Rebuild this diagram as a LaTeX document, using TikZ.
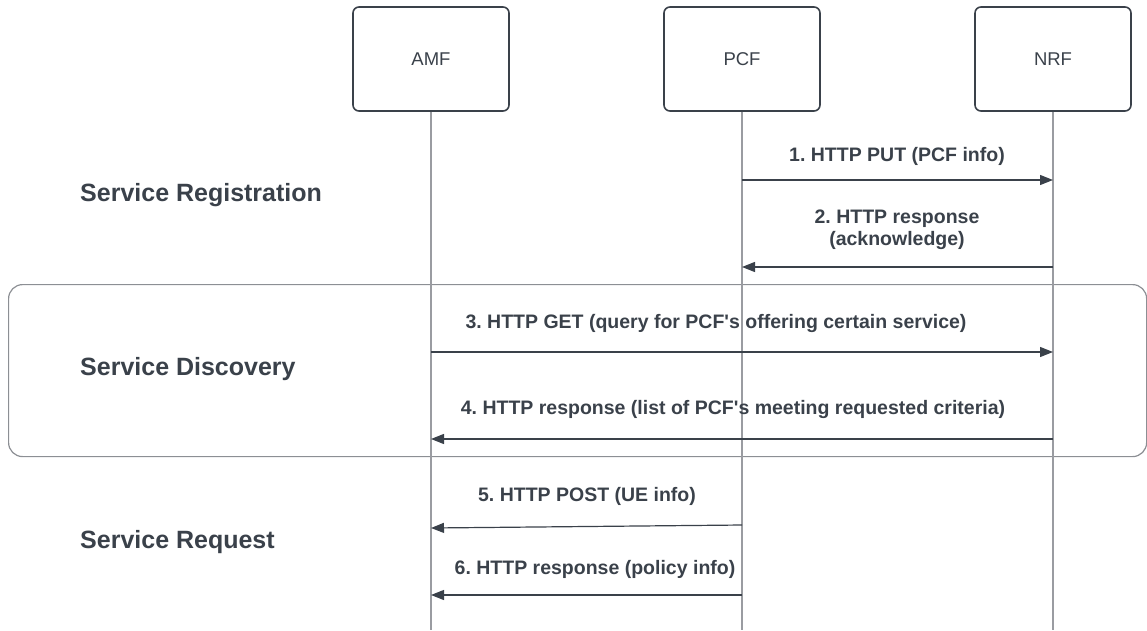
\documentclass[tikz,border=0pt]{standalone}
\usepackage{fontspec}
\setmainfont{Liberation Sans}[Ligatures=TeXOff]
\usetikzlibrary{arrows.meta}
\definecolor{ink}{HTML}{3A414A}
\definecolor{lifegray}{HTML}{9A9CA1}
\definecolor{framegray}{HTML}{8C8F94}
\frenchspacing
\tikzset{
  actor/.style={draw=ink, line width=1.6pt, rounded corners=6pt, minimum width=156pt, minimum height=104pt, text=ink, font=\fontsize{18.5}{22}\selectfont},
  lifeline/.style={draw=lifegray, line width=1.4pt},
  msg/.style={draw=ink, line width=1.2pt, -{Triangle[length=13pt,width=10pt]}},
  msglabel/.style={text=ink, font=\fontsize{19.5}{22}\selectfont\bfseries, align=center, inner sep=0pt},
  phase/.style={text=ink, font=\fontsize{25}{28}\selectfont\bfseries, anchor=west, inner sep=0pt},
  frame/.style={draw=framegray, line width=1.2pt, rounded corners=14pt}
}
\begin{document}
\begin{tikzpicture}[x=1pt,y=-1pt]
\useasboundingbox (0,0) rectangle (1147,630);
% frame for discovery
\node[frame, minimum width=1138pt, minimum height=172pt, anchor=north west] (disc) at (8,284) {};
% actors
\node[actor] (amf) at (431,59) {AMF};
\node[actor] (pcf) at (742,59) {PCF};
\node[actor] (nrf) at (1053,59) {NRF};
\coordinate (amfend) at (431,630);
\coordinate (pcfend) at (742,630);
\coordinate (nrfend) at (1053,630);
\draw[lifeline] (amf.south) -- (amfend);
\draw[lifeline] (pcf.south) -- (pcfend);
\draw[lifeline] (nrf.south) -- (nrfend);
% message anchor points
\coordinate (p1) at (742,180); \coordinate (n1) at (1053,180);
\coordinate (n2) at (1053,267); \coordinate (p2) at (742,267);
\coordinate (a3) at (431,352); \coordinate (n3) at (1053,352);
\coordinate (n4) at (1053,439); \coordinate (a4) at (431,439);
\coordinate (p5) at (742,525); \coordinate (a5) at (431,528);
\coordinate (p6) at (742,595); \coordinate (a6) at (431,595);
\draw[msg] (p1) -- (n1);
\draw[msg] (n2) -- (p2);
\draw[msg] (a3) -- (n3);
\draw[msg] (n4) -- (a4);
\draw[msg] (p5) -- (a5);
\draw[msg] (p6) -- (a6);
% labels
\node[msglabel] (l1) at (897,156) {1. HTTP PUT (PCF info)};
\node[msglabel] (l2) at (897,230) {2. HTTP response\\(acknowledge)};
\node[msglabel] (l3) at (716,323) {3. HTTP GET (query for PCF's offering certain service)};
\node[msglabel] (l4) at (733,409) {4. HTTP response (list of PCF's meeting requested criteria)};
\node[msglabel] (l5) at (587,496) {5. HTTP POST (UE info)};
\node[msglabel] (l6) at (595,569) {6. HTTP response (policy info)};
% phases
\node[phase] (ph1) at (80,195) {Service Registration};
\node[phase] (ph2) at (80,369) {Service Discovery};
\node[phase] (ph3) at (80,542) {Service Request};
\end{tikzpicture}
\end{document}
